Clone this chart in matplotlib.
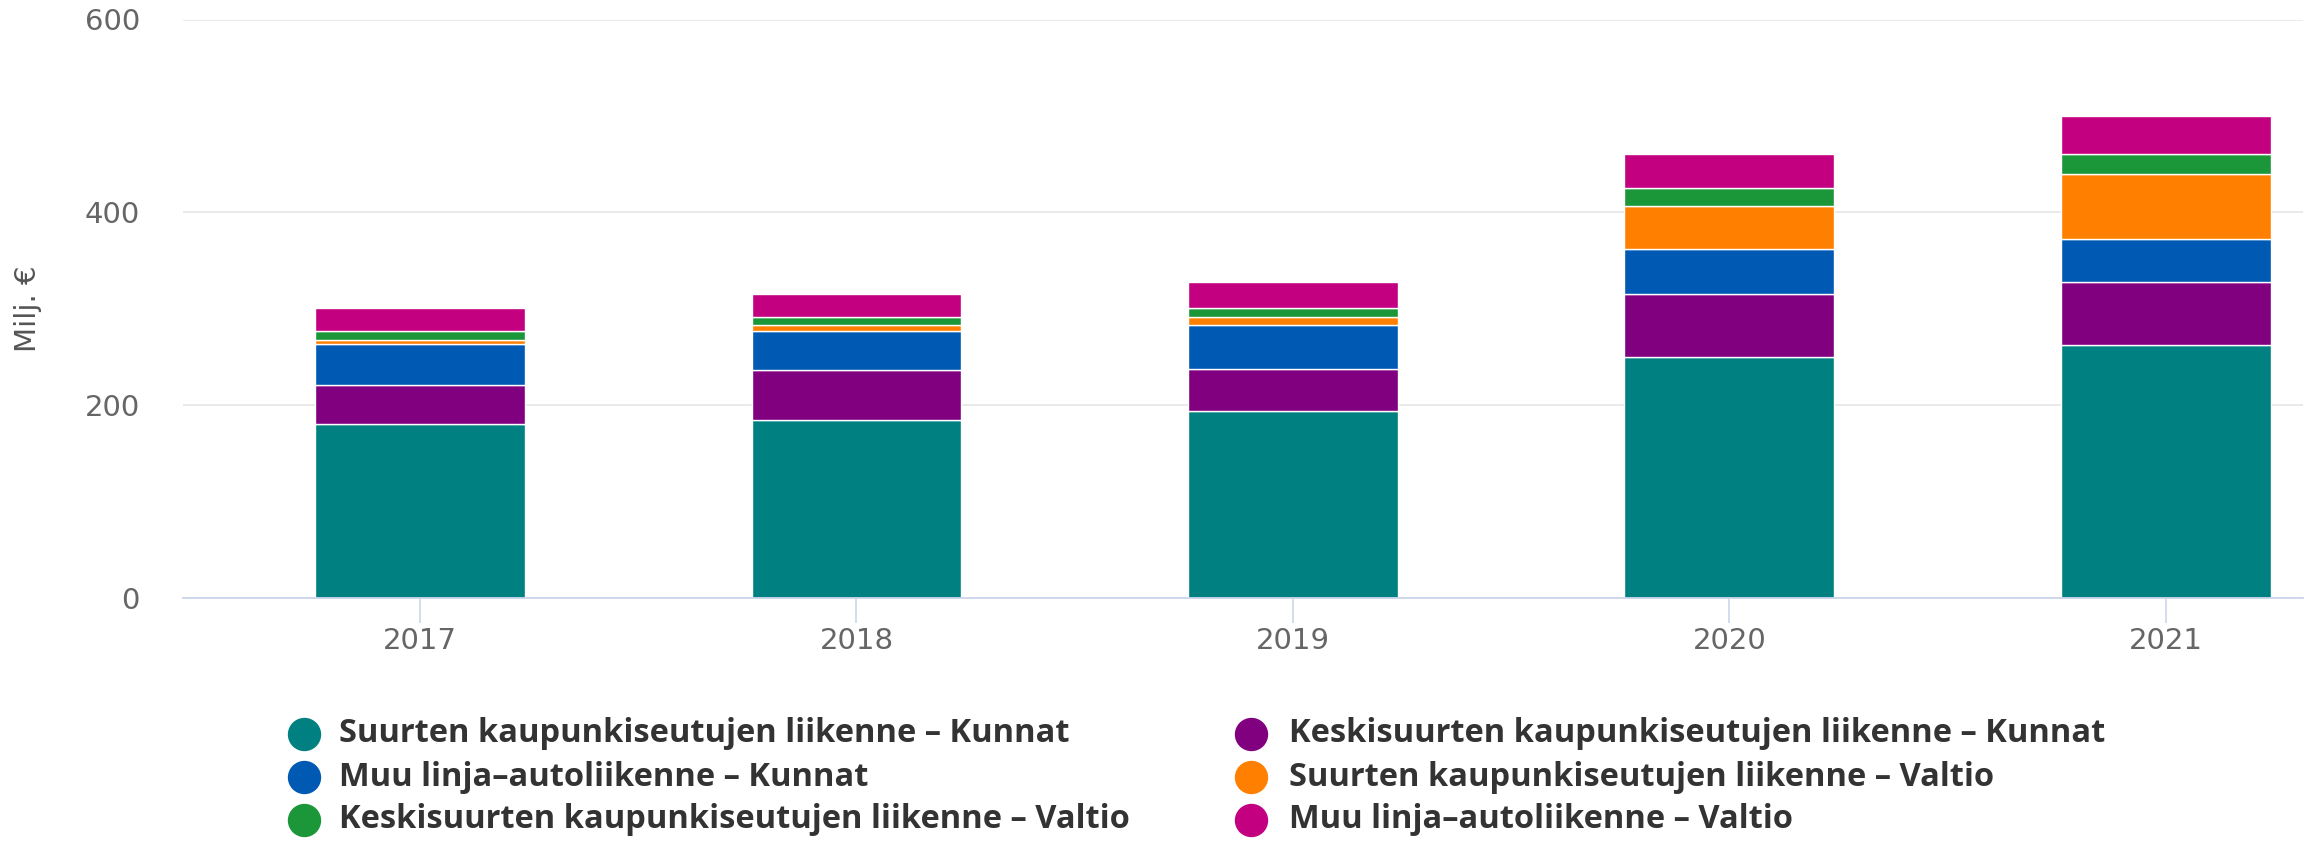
import matplotlib
matplotlib.use('Agg')
import matplotlib.pyplot as plt
from matplotlib.lines import Line2D
import numpy as np

# ---- data ----
years = ['2017', '2018', '2019', '2020', '2021']
series_names = [
    'Suurten kaupunkiseutujen liikenne – Kunnat',
    'Keskisuurten kaupunkiseutujen liikenne – Kunnat',
    'Muu linja–autoliikenne – Kunnat',
    'Suurten kaupunkiseutujen liikenne – Valtio',
    'Keskisuurten kaupunkiseutujen liikenne – Valtio',
    'Muu linja–autoliikenne – Valtio',
]
suurten_kunnat = [180, 185, 194, 250, 262]
keskisuurten_kunnat = [41, 51, 44, 65, 66]
muu_kunnat = [42, 41, 45, 47, 44]
suurten_valtio = [5, 6, 8.5, 45, 68]
keskisuurten_valtio = [9, 8.5, 9, 18, 21]
muu_valtio = [24, 24, 27, 35, 39]
y_ticks = [0, 200, 400, 600]
y_label = 'Milj. €'

series = [suurten_kunnat, keskisuurten_kunnat, muu_kunnat,
          suurten_valtio, keskisuurten_valtio, muu_valtio]
colors = ['#008080', '#800080', '#0059b2', '#ff7f00', '#1b9639', '#c3007f']

W, H = 2315, 841
fig = plt.figure(figsize=(W / 100, H / 100), dpi=100)
fig.patch.set_facecolor('white')

left_px, right_px, top_px, base_px = 183, 2303, 19.5, 598
ax = fig.add_axes([left_px / W, 1 - base_px / H,
                   (right_px - left_px) / W, (base_px - top_px) / H])

x = np.arange(len(years))
bottom = np.zeros(len(years))
for vals, col in zip(series, colors):
    vals = np.array(vals, dtype=float)
    ax.bar(x, vals, width=0.481, bottom=bottom, color=col,
           edgecolor='white', linewidth=1.0, zorder=3)
    bottom += vals

ax.set_xlim(-0.543, 4.314)
ax.set_ylim(0, 600)
ax.set_xticks(x)
ax.set_xticklabels(years)
ax.set_yticks(y_ticks)
ax.grid(axis='y', color='#e6e6e6', linewidth=1.2, zorder=0)
ax.grid(axis='x', visible=False)
ax.set_axisbelow(True)
for s in ['top', 'right', 'left']:
    ax.spines[s].set_visible(False)
ax.spines['bottom'].set_color('#ccd6eb')
ax.spines['bottom'].set_linewidth(1.3)
ax.spines['bottom'].set_zorder(4)

ax.tick_params(axis='y', length=0, pad=31, labelsize=21, labelcolor='#666666')
ax.tick_params(axis='x', length=18, width=1.2, color='#ccd6eb', pad=3,
               labelsize=21, labelcolor='#666666')
ax.set_ylabel(y_label, fontsize=21, color='#555555')
ax.yaxis.set_label_coords((42 - left_px) / (right_px - left_px), 0.5)

# ---- legend (row-wise, two columns) ----
legend_order = [0, 1, 2, 3, 4, 5]
col_marker_x = [304, 1251]
col_text_x = [339, 1289]
row_y = [734, 777, 820]
for i, idx in enumerate(legend_order):
    r, c = divmod(i, 2)
    mx, my = col_marker_x[c] / W, 1 - row_y[r] / H
    fig.add_artist(Line2D([mx], [my], marker='o', markersize=23,
                          markerfacecolor=colors[idx], markeredgecolor=colors[idx],
                          linestyle='none', transform=fig.transFigure))
    fig.text(col_text_x[c] / W, my, series_names[idx], fontsize=23.5,
             family=['Open Sans', 'DejaVu Sans'], weight='bold',
             color='#333333', va='center', ha='left')

fig.savefig('out.png', dpi=100, facecolor='white')
